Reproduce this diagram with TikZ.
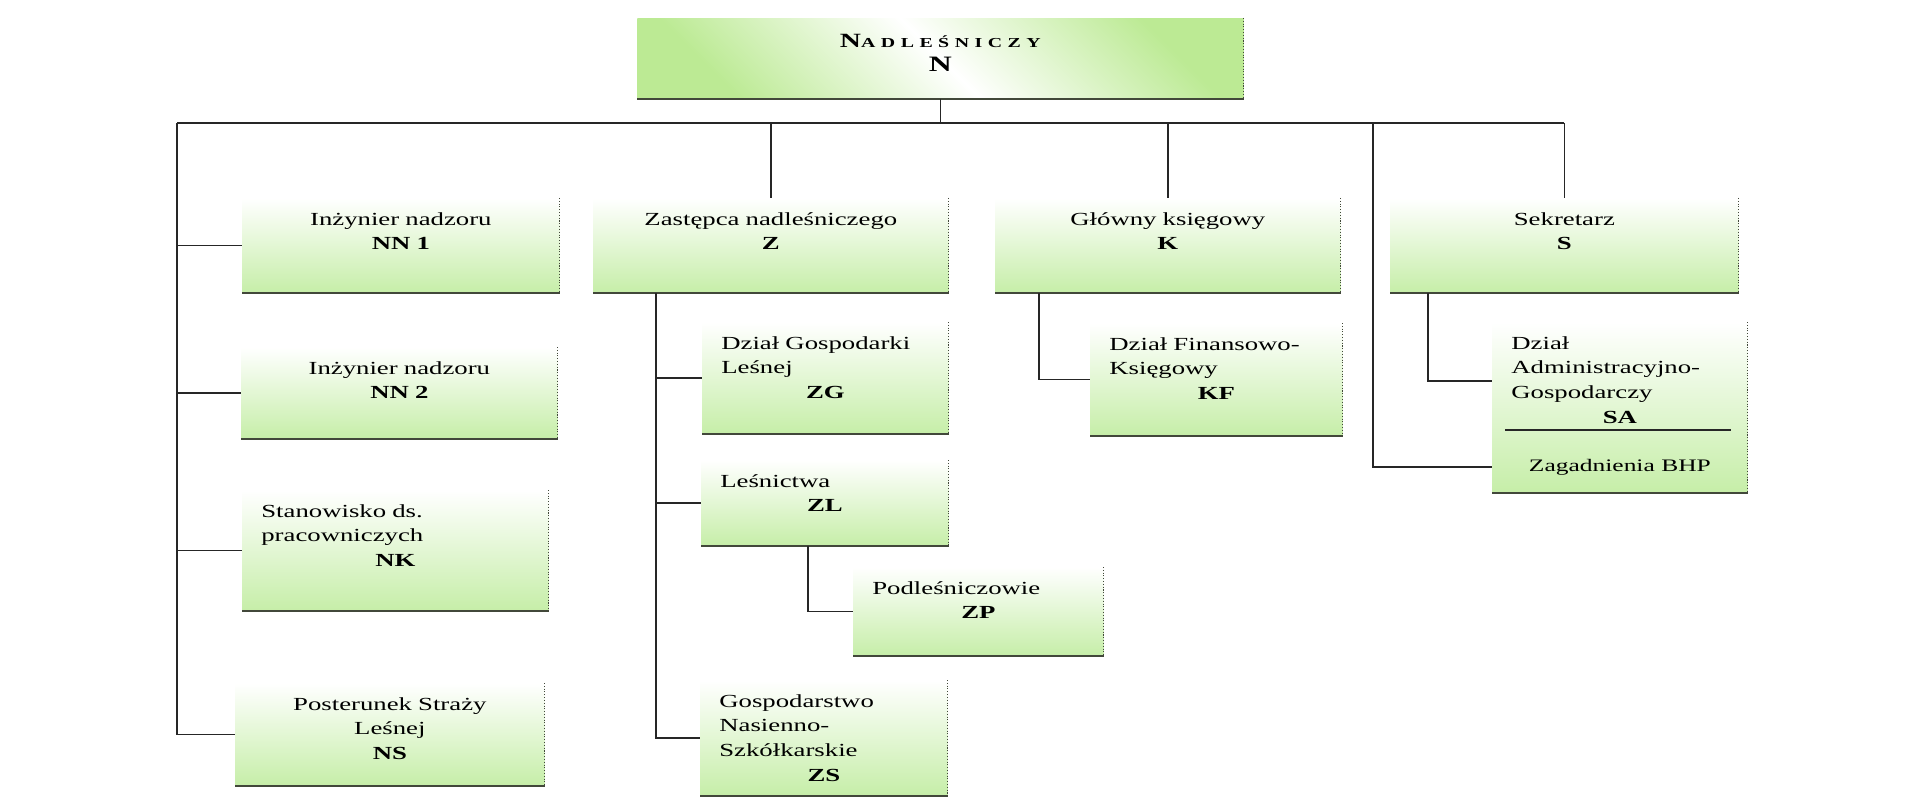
\documentclass[tikz,border=0pt]{standalone}
\usepackage{fontspec}
\setmainfont{Liberation Serif}[FakeStretch=1.45]
\newfontfamily\titlefont{Liberation Serif}[FakeStretch=1.45,LetterSpace=40]
\definecolor{boxgreen}{RGB}{198,238,168}
\definecolor{titlegreen}{RGB}{188,234,148}
\definecolor{shadegray}{RGB}{66,72,58}
\newcommand{\codeline}[1]{\makebox[\linewidth]{\textbf{#1}}}

\begin{document}
\begin{tikzpicture}[
  cell/.style={anchor=north west, inner xsep=0.38cm, inner ysep=0pt,
    text height=0.54cm, top color=white, bottom color=boxgreen,
    font=\fontsize{10.5}{14}\selectfont},
  mid/.style={cell, align=center},
  lft/.style={cell, align=left},
  wire/.style={line width=0.9pt, black!85},
  shadeline/.style={shadegray, line width=1.3pt},
  rimline/.style={shadegray, line width=0.6pt, densely dotted}]
\useasboundingbox (0,0) rectangle (38.4,-16.2);

% top box
\node[mid, text width=11.36cm, text height=0.58cm, text depth=1.02cm,
  top color=titlegreen, bottom color=titlegreen, middle color=white,
  shading angle=-45] (nadl) at (12.74,-0.36)
  {{\titlefont\bfseries\fontsize{11.5}{14}\selectfont N\fontsize{7.8}{14}\selectfont ADLEŚNICZY}\\
   {\bfseries\fontsize{12.5}{14}\selectfont N}};

% left column
\node[mid, text width=5.58cm, text depth=1.35cm] (nn1) at (4.84,-3.96) {Inżynier nadzoru\\\textbf{NN 1}};
\node[mid, text width=5.56cm, text depth=1.29cm] (nn2) at (4.82,-6.94) {Inżynier nadzoru\\\textbf{NN 2}};
\node[lft, text width=5.36cm, text depth=1.87cm] (nk) at (4.84,-9.8) {Stanowisko ds.\\pracowniczych\\\codeline{NK}};
\node[mid, text width=5.42cm, text depth=1.51cm] (ns) at (4.7,-13.66) {Posterunek Straży\\Leśnej\\\textbf{NS}};

% Z column
\node[mid, text width=6.34cm, text depth=1.35cm] (zast) at (11.86,-3.96) {Zastępca nadleśniczego\\\textbf{Z}};
\node[lft, text width=4.16cm, text depth=1.69cm] (zg) at (14.04,-6.44) {Dział Gospodarki\\Leśnej\\\codeline{ZG}};
\node[lft, text width=4.18cm, text depth=1.17cm] (zl) at (14.02,-9.2) {Leśnictwa\\\codeline{ZL}};
\node[lft, text width=4.24cm, text depth=1.23cm] (zp) at (17.06,-11.34) {Podleśniczowie\\\codeline{ZP}};
\node[lft, text width=4.18cm, text depth=1.77cm] (zs) at (14.0,-13.6) {Gospodarstwo\\Nasienno-\\Szkółkarskie\\\codeline{ZS}};

% K and S columns
\node[mid, text width=6.14cm, text depth=1.35cm] (ksieg) at (19.9,-3.96) {Główny księgowy\\\textbf{K}};
\node[lft, text width=4.28cm, text depth=1.71cm] (kf) at (21.8,-6.46) {Dział Finansowo-\\Księgowy\\\codeline{KF}};
\node[mid, text width=6.2cm, text depth=1.35cm] (sekr) at (27.8,-3.96) {Sekretarz\\\textbf{S}};
\node[lft, text width=4.34cm, text depth=2.87cm] (sa) at (29.84,-6.44) {Dział\\Administracyjno-\\Gospodarczy\\\codeline{SA}};
\node[font=\fontsize{10}{12}\selectfont] (bhp) at ([yshift=0.52cm]sa.south) {Zagadnienia BHP};
\draw[wire] ([xshift=0.26cm,yshift=1.26cm]sa.south west) -- ([xshift=-0.34cm,yshift=1.26cm]sa.south east);

\foreach \n in {nadl,nn1,nn2,nk,ns,zast,zg,zl,zp,zs,ksieg,kf,sekr,sa} {
  \draw[rimline] (\n.north east) -- (\n.south east);
  \draw[shadeline] (\n.south east) -- (\n.south west);
}

% connectors
\coordinate (busL) at (3.54,-2.46);
\coordinate (sside) at (27.46,-2.46);
\draw[wire] (busL) -- (busL -| sekr.north);
\draw[wire] (nadl.south) -- (nadl.south |- busL);
\foreach \n in {zast,ksieg,sekr}
\draw[wire] (\n.north |- busL) -- (\n.north);
\draw[wire] (busL) |- (ns.west);
\foreach \n in {nn1,nn2,nk}
\draw[wire] (busL |- \n.west) -- (\n.west);
\coordinate (zdown) at ([xshift=1.26cm]zast.south west);
\draw[wire] (zdown) |- (zs.west);
\foreach \n in {zg,zl}
\draw[wire] (zdown |- \n.west) -- (\n.west);
\draw[wire] ([xshift=2.14cm]zl.south west) |- (zp.west);
\draw[wire] ([xshift=0.88cm]ksieg.south west) |- (kf.west);
\draw[wire] ([xshift=0.76cm]sekr.south west) |- ([yshift=-1.18cm]sa.north west);
\draw[wire] (sside) |- (bhp.west -| sa.west);
\end{tikzpicture}
\end{document}
